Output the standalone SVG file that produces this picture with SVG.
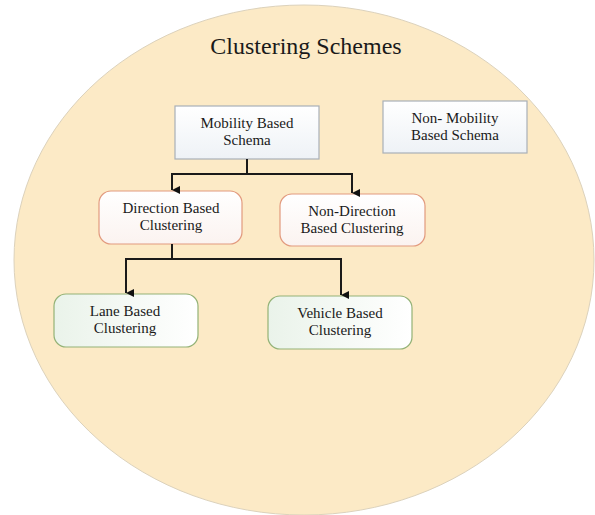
<svg xmlns="http://www.w3.org/2000/svg" width="595" height="515" viewBox="0 0 595 515">
<defs>
<marker id="arr" markerWidth="8" markerHeight="8" refX="4" refY="8" orient="auto" markerUnits="userSpaceOnUse" viewBox="0 0 8 8">
<path d="M0,0 L8,0 L4,8 Z" fill="#111"/>
</marker>
<linearGradient id="gBlue" x1="0" y1="0" x2="0" y2="1"><stop offset="0" stop-color="#FFFFFF"/><stop offset="1" stop-color="#EEF2F6"/></linearGradient>
<linearGradient id="gRed" x1="0" y1="0" x2="0" y2="1"><stop offset="0" stop-color="#FFFFFF"/><stop offset="1" stop-color="#FBF3F0"/></linearGradient>
<linearGradient id="gGreen" x1="0" y1="0" x2="1" y2="0"><stop offset="0" stop-color="#EAF3EA"/><stop offset="1" stop-color="#FFFFFF"/></linearGradient>
<style>
.t{font-family:"Liberation Serif","Times New Roman",serif;font-size:15px;fill:#1a1a1a;text-anchor:middle}
.title{font-family:"Liberation Serif","Times New Roman",serif;font-size:24px;fill:#1a1a1a;text-anchor:middle}
.blue{fill:url(#gBlue);stroke:#A8B0B8;stroke-width:1.2}
.red{fill:url(#gRed);stroke:#E29A7E;stroke-width:1.2}
.green{fill:url(#gGreen);stroke:#93B276;stroke-width:1.2}
.c{fill:none;stroke:#1a1a1a;stroke-width:2}
</style>
</defs>
<rect width="595" height="515" fill="#FFFFFF"/>
<g id="scheme">
<ellipse cx="304" cy="260" rx="290" ry="255" fill="#FCEAC6" stroke="#DCD2BC" stroke-width="1"/>
<text class="title" x="306" y="54">Clustering Schemes</text>
</g>
<g id="mobility">
<rect class="blue" x="175" y="106" width="144" height="53"/>
<text class="t" x="247" y="128">Mobility Based</text>
<text class="t" x="247" y="145">Schema</text>
</g>
<g id="nonmobility">
<rect class="blue" x="383" y="101" width="144" height="52"/>
<text class="t" x="455" y="123">Non- Mobility</text>
<text class="t" x="455" y="140">Based Schema</text>
</g>
<g id="direction">
<rect class="red" x="99" y="191" width="143" height="53" rx="12"/>
<text class="t" x="171" y="213">Direction Based</text>
<text class="t" x="171" y="230">Clustering</text>
</g>
<g id="nondirection">
<rect class="red" x="280" y="194" width="145" height="52" rx="12"/>
<text class="t" x="352" y="216">Non-Direction</text>
<text class="t" x="352" y="233">Based Clustering</text>
</g>
<g id="lane">
<rect class="green" x="54" y="294" width="144" height="53" rx="12"/>
<text class="t" x="125" y="316">Lane Based</text>
<text class="t" x="125" y="333">Clustering</text>
</g>
<g id="vehicle">
<rect class="green" x="268" y="296" width="144" height="53" rx="12"/>
<text class="t" x="340" y="318">Vehicle Based</text>
<text class="t" x="340" y="335">Clustering</text>
</g>
<g id="connectors">
<path class="c" d="M247,159 V174"/>
<path class="c" d="M247,174 H172 V190" marker-end="url(#arr)"/>
<path class="c" d="M247,174 H352 V193" marker-end="url(#arr)"/>
<path class="c" d="M172,244 V259"/>
<path class="c" d="M172,259 H126 V293" marker-end="url(#arr)"/>
<path class="c" d="M172,259 H341 V295" marker-end="url(#arr)"/>
</g>
</svg>
